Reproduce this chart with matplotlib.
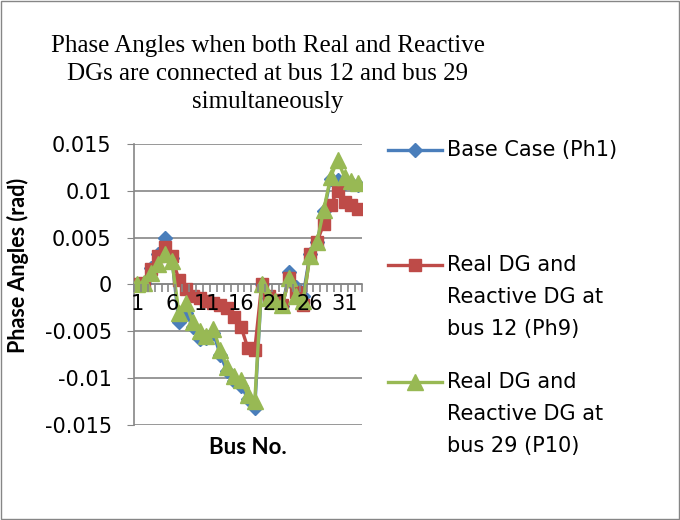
import numpy as np
import matplotlib
matplotlib.use("Agg")
import matplotlib.pyplot as plt
import matplotlib.lines as lin
import matplotlib.patches as pat

bus = np.arange(1, 34)
base_ph1 = [0.0, 0.0002, 0.0018, 0.0033, 0.0050, 0.0028, -0.0040, -0.0030, -0.0045, -0.0058, -0.0057,
            -0.0052, -0.0075, -0.0093, -0.0103, -0.0108, -0.0122, -0.0132, 0.0, -0.0015, -0.0019, -0.0023,
            0.0013, -0.0003, -0.0012, 0.0032, 0.0045, 0.0078, 0.0113, 0.0112, 0.0108, 0.0108, 0.0106]
real_ph9 = [0.0, 0.0002, 0.0016, 0.0030, 0.0040, 0.0030, 0.0005, -0.0005, -0.0012, -0.0015, -0.0018,
            -0.0020, -0.0022, -0.0025, -0.0035, -0.0045, -0.0068, -0.0070, 0.0, -0.0012, -0.0017, -0.0022,
            0.0007, -0.0008, -0.0022, 0.0033, 0.0045, 0.0065, 0.0085, 0.0100, 0.0088, 0.0085, 0.0081]
real_p10 = [0.0, 0.0002, 0.0012, 0.0022, 0.0033, 0.0025, -0.0030, -0.0020, -0.0040, -0.0050, -0.0055,
            -0.0048, -0.0070, -0.0088, -0.0098, -0.0102, -0.0118, -0.0125, 0.0, -0.0015, -0.0018, -0.0022,
            0.0007, -0.0012, -0.0018, 0.0030, 0.0045, 0.0080, 0.0115, 0.0133, 0.0115, 0.0110, 0.0108]
xlabels = ["1", "6", "11", "16", "21", "26", "31"]
yticks = [-0.015, -0.01, -0.005, 0, 0.005, 0.01, 0.015]
ylabels = ["-0.015", "-0.01", "-0.005", "0", "0.005", "0.01", "0.015"]
names = ["Base Case (Ph1)", "Real DG and\nReactive DG at\nbus 12 (Ph9)", "Real DG and\nReactive DG at\nbus 29 (P10)"]

blue = "#4A7EBB"
red = "#BE4B48"
green = "#98B954"
grey = "#868686"
sans = ["DejaVu Sans"]
bold = ["Lato", "DejaVu Sans"]

fig = plt.figure(figsize=(6.8, 5.2), dpi=100)
fig.add_artist(pat.Rectangle((0.002, 0.002), 0.996, 0.996, transform=fig.transFigure,
                             fill=False, edgecolor=grey, linewidth=1))
ax = fig.add_axes([0.197, 0.183, 0.335, 0.54])

ax.plot(bus, base_ph1, color=blue, marker="D", markersize=7, linewidth=2.4, zorder=3)
ax.plot(bus, real_ph9, color=red, marker="s", markersize=9, linewidth=2.4, zorder=4)
ax.plot(bus, real_p10, color=green, marker="^", markersize=11, linewidth=2.4, zorder=5)

ax.set_xlim(0.5, 33.5)
ax.set_ylim(-0.015, 0.015)
ax.set_yticks(yticks)
ax.set_yticklabels(ylabels, fontsize=15, family=sans)
ax.yaxis.grid(True, color=grey, linewidth=1.2)
ax.set_axisbelow(True)

ax.spines["top"].set_visible(False)
ax.spines["right"].set_visible(False)
ax.spines["left"].set_color(grey)
ax.spines["left"].set_linewidth(1.2)
ax.spines["bottom"].set_position(("data", 0))
ax.spines["bottom"].set_color(grey)
ax.spines["bottom"].set_linewidth(1.2)
ax.tick_params(axis="y", direction="out", length=5, color=grey, pad=11)
ax.set_xticks(bus[::5])
ax.set_xticklabels(xlabels, fontsize=15, family=sans)
ax.set_xticks(np.arange(0.5, 34, 1), minor=True)
ax.tick_params(axis="x", which="major", length=0, pad=7)
ax.tick_params(axis="x", which="minor", direction="out", length=6, color=grey, width=1.2)
# category labels sit on top of the lines, as in the original
for t in ax.get_xticklabels():
    t.set_zorder(10)
ax.xaxis.set_zorder(10)

fig.text(0.027, 0.49, "Phase Angles (rad)", rotation=90, ha="center", va="center",
         fontsize=15.5, fontweight="bold", family=bold)
fig.text(0.365, 0.14, "Bus No.", ha="center", va="center", fontsize=16, fontweight="bold", family=bold)
fig.text(0.394, 0.857, "Phase Angles when both Real and Reactive\nDGs are connected at bus 12 and bus 29\nsimultaneously",
         ha="center", va="center", fontsize=18, family="Liberation Serif", linespacing=1.36)

# legend drawn by hand to match the layout
leg_y = [150, 265, 382]
styles = [(blue, "D", 7), (red, "s", 9), (green, "^", 11)]
for (c, m, ms), y, name in zip(styles, leg_y, names):
    fy = 1 - y / 520
    fig.add_artist(lin.Line2D([0.571, 0.650], [fy, fy], transform=fig.transFigure, color=c, linewidth=2.4))
    fig.add_artist(lin.Line2D([0.6105], [fy], transform=fig.transFigure, color=c,
                              marker=m, markersize=ms))
    for k, part in enumerate(name.split("\n")):
        fig.text(0.657, 1 - (y + 32 * k) / 520, part, ha="left", va="center", fontsize=15, family=sans)

fig.savefig("out.png", dpi=100)
